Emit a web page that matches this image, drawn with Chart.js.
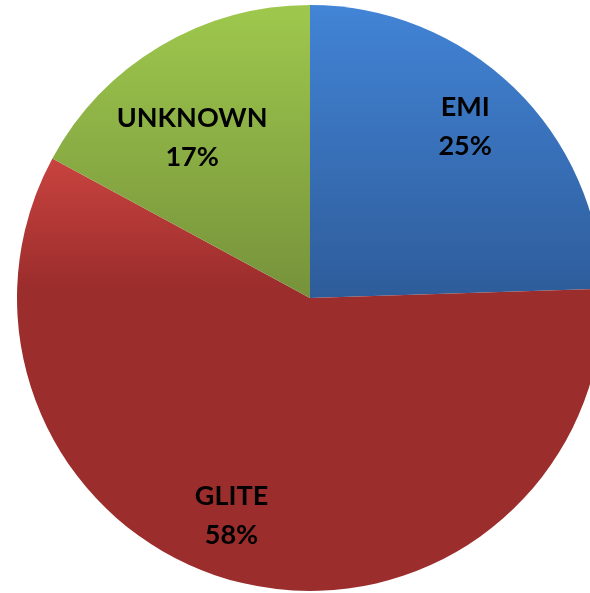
<!DOCTYPE html>
<html>
<head>
<meta charset="utf-8">
<script src="https://cdn.jsdelivr.net/npm/chart.js@4.4.0/dist/chart.umd.min.js"></script>
<style>
  html, body { margin: 0; padding: 0; background: #ffffff; overflow: hidden; }
  #wrap { position: absolute; left: 0; top: 0; width: 620px; height: 596px; }
</style>
</head>
<body>
<div id="wrap"><canvas id="pieChart" width="620" height="596"></canvas></div>
<script>
// Slice data
const categories = ['EMI', 'GLITE', 'UNKNOWN'];
const shares = [24.5, 58.4, 17.1];
const percentLabels = ['25%', '58%', '17%'];

// Gradient colours per slice (light -> dark)
const sliceColors = [
    ['#4284d6', '#2e5c9a'],
    ['#c8433f', '#9b2d2c'],
    ['#9ec84d', '#76923b']
];

// Label placement: fraction of radius and small angle nudge (degrees)
const labelPlace = [
    { r: 0.79, da: -2 },
    { r: 0.79, da: 6.5 },
    { r: 0.68, da: -5.5 }
];

// Build a vertical gradient covering the extent of one slice
function sliceGradient(context) {
    const chart = context.chart;
    const area = chart.chartArea;
    const i = context.dataIndex;
    if (!area) return sliceColors[i][1];
    const cx = (area.left + area.right) / 2;
    const cy = (area.top + area.bottom) / 2;
    const r = Math.min(area.right - area.left, area.bottom - area.top) / 2;
    const total = shares.reduce((a, b) => a + b, 0);
    let start = 0;
    for (let k = 0; k < i; k++) start += shares[k];
    const a0 = -Math.PI / 2 + start / total * Math.PI * 2;
    const a1 = a0 + shares[i] / total * Math.PI * 2;
    let minY = cy, maxY = cy;
    for (let s = 0; s <= 40; s++) {
        const a = a0 + (a1 - a0) * s / 40;
        const y = cy + r * Math.sin(a);
        minY = Math.min(minY, y);
        maxY = Math.max(maxY, y);
    }
    const g = chart.ctx.createLinearGradient(0, minY, 0, maxY);
    g.addColorStop(0, sliceColors[i][0]);
    if (i === 1) {
        g.addColorStop(0.3, sliceColors[i][1]);
    }
    g.addColorStop(1, sliceColors[i][1]);
    return g;
}

// Draw the category name and percentage inside each slice
const sliceLabels = {
    id: 'sliceLabels',
    afterDatasetsDraw(chart) {
        const ctx = chart.ctx;
        const meta = chart.getDatasetMeta(0);
        ctx.save();
        ctx.fillStyle = '#000000';
        ctx.font = 'bold 27px Lato, "Open Sans", sans-serif';
        ctx.textAlign = 'center';
        ctx.textBaseline = 'middle';
        meta.data.forEach((arc, i) => {
            const p = labelPlace[i];
            const mid = (arc.startAngle + arc.endAngle) / 2 + p.da * Math.PI / 180;
            const d = arc.outerRadius * p.r;
            const x = arc.x + Math.cos(mid) * d;
            const y = arc.y + Math.sin(mid) * d;
            ctx.fillText(categories[i], x, y - 19);
            ctx.fillText(percentLabels[i], x, y + 20);
        });
        ctx.restore();
    }
};

new Chart(document.getElementById('pieChart'), {
    type: 'pie',
    data: {
        labels: categories,
        datasets: [{
            data: shares,
            backgroundColor: sliceGradient,
            borderWidth: 0
        }]
    },
    options: {
        responsive: false,
        animation: false,
        layout: { padding: 5 },
        plugins: {
            legend: { display: false },
            tooltip: { enabled: false }
        }
    },
    plugins: [sliceLabels]
});
</script>
</body>
</html>
